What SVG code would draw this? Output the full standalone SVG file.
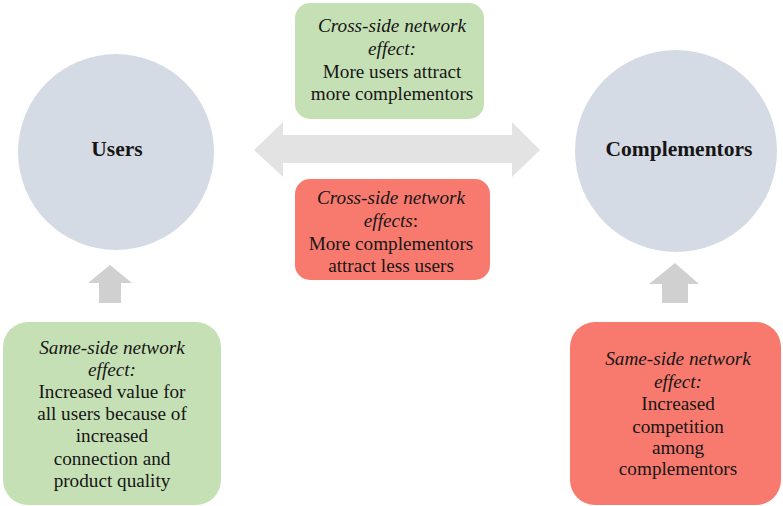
<svg xmlns="http://www.w3.org/2000/svg" width="783" height="506" viewBox="0 0 783 506">
  <style>
    .circle { fill: #d5dbe5; }
    .green { fill: #c6e0b5; }
    .red { fill: #f87a6f; }
    .arrow-light { fill: #e3e3e3; }
    .arrow-dark { fill: #d0d0d0; }
    text { font-family: "Liberation Serif", "Times New Roman", serif; font-size: 19.2px; fill: #161616; text-anchor: middle; }
    .title { font-size: 21.5px; font-weight: bold; }
    .em { font-style: italic; }
  </style>
  <rect width="783" height="506" fill="#ffffff"/>

  <!-- connectors -->
  <g id="connectors">
    <polygon class="arrow-light" points="254,150 283,122 283,135 512,135 512,122 540,150 512,177 512,163 283,163 283,177"/>
    <polygon class="arrow-dark" points="110,265 132,283 121,283 121,303 99,303 99,283 88,283"/>
    <polygon class="arrow-dark" points="675,263 699,284 688,284 688,303 662,303 662,284 649,284"/>
  </g>

  <g id="users">
    <circle class="circle" cx="116" cy="152" r="98"/>
    <text class="title" x="117" y="156">Users</text>
  </g>

  <g id="complementors">
    <circle class="circle" cx="676" cy="151" r="101"/>
    <text class="title" x="679" y="156">Complementors</text>
  </g>

  <g id="cross-positive">
    <rect class="green" x="295" y="3" width="189" height="116" rx="15"/>
    <text x="392" y="32" class="em">Cross-side network</text>
    <text x="392" y="55" class="em">effect:</text>
    <text x="392" y="78">More users attract</text>
    <text x="392" y="100">more complementors</text>
  </g>

  <g id="cross-negative">
    <rect class="red" x="295" y="179" width="195" height="101" rx="15"/>
    <text x="391" y="204" class="em">Cross-side network</text>
    <text x="391" y="227"><tspan class="em">effects</tspan>:</text>
    <text x="391" y="250">More complementors</text>
    <text x="391" y="272">attract less users</text>
  </g>

  <g id="same-users">
    <rect class="green" x="3" y="322" width="218" height="183" rx="25"/>
    <text x="112" y="354" class="em">Same-side network</text>
    <text x="112" y="376" class="em">effect:</text>
    <text x="112" y="398">Increased value for</text>
    <text x="112" y="420">all users because of</text>
    <text x="112" y="442">increased</text>
    <text x="112" y="465">connection and</text>
    <text x="112" y="487">product quality</text>
  </g>

  <g id="same-complementors">
    <rect class="red" x="570" y="322" width="211" height="183" rx="25"/>
    <text x="678" y="365" class="em">Same-side network</text>
    <text x="678" y="388" class="em">effect:</text>
    <text x="678" y="410">Increased</text>
    <text x="678" y="433">competition</text>
    <text x="678" y="454">among</text>
    <text x="678" y="475">complementors</text>
  </g>
</svg>
